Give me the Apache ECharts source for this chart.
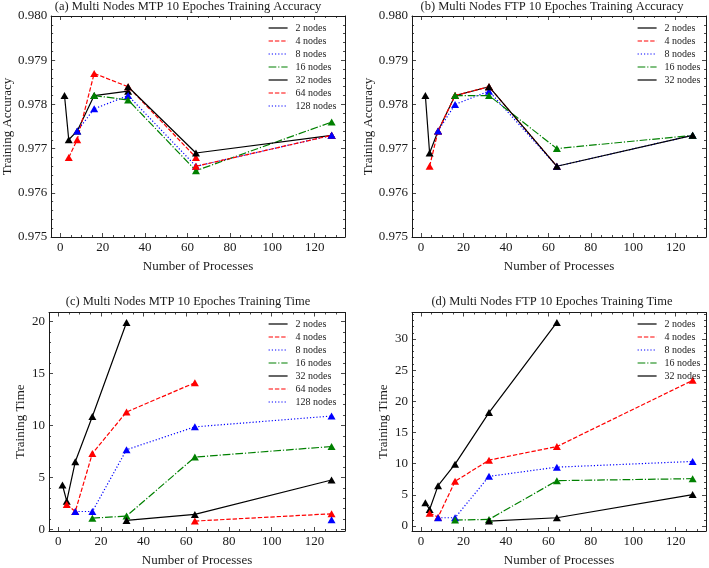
<!DOCTYPE html>
<html>
<head>
<meta charset="utf-8">
<script src="https://cdn.jsdelivr.net/npm/echarts@6/dist/echarts.min.js"></script>
<style>
  html, body { margin: 0; padding: 0; background: #fff; }
  #main { width: 709px; height: 568px; }
</style>
</head>
<body>
<div id="main"></div>
<script>
  // 节点数 -> 进程数
  const nodeNames = ['2 nodes', '4 nodes', '8 nodes', '16 nodes', '32 nodes', '64 nodes', '128 nodes'];
  const procs2 = [2, 4, 8, 16, 32];
  const procs2Ftp = [2, 4, 8, 16, 32, 64];
  const procs4 = [4, 8, 16, 32, 64];
  const procs4Ftp = [4, 8, 16, 32, 64, 128];
  const procs8 = [8, 16, 32, 64, 128];
  const procs16 = [16, 32, 64, 128];
  const procs32 = [32, 64, 128];
  const procs64 = [64, 128];
  const procs128 = [128];

  // (a) MTP 训练精度
  const mtpAcc2 = [0.9782, 0.9772, 0.9774, 0.9782, 0.9783];
  const mtpAcc4 = [0.9768, 0.9772, 0.9787, 0.9784, 0.9768];
  const mtpAcc8 = [0.9774, 0.9779, 0.9782, 0.9766, 0.9773];
  const mtpAcc16 = [0.9782, 0.9781, 0.9765, 0.9776];
  const mtpAcc32 = [0.9784, 0.9769, 0.9773];
  const mtpAcc64 = [0.9766, 0.9773];
  const mtpAcc128 = [0.9773];

  // (b) FTP 训练精度
  const ftpAcc2 = [0.9782, 0.9769, 0.9774, 0.9782, 0.9784];
  const ftpAcc4 = [0.9766, 0.9774, 0.9782, 0.9784, 0.9766];
  const ftpAcc8 = [0.9774, 0.9780, 0.9783, 0.9766, 0.9773];
  const ftpAcc16 = [0.9782, 0.9782, 0.9770, 0.9773];
  const ftpAcc32 = [0.9784, 0.9766, 0.9773];

  // (c) MTP 训练时间
  const mtpTime2 = [4.27, 2.71, 6.5, 10.85, 19.9];
  const mtpTime4 = [2.39, 1.72, 7.3, 11.29, 14.1];
  const mtpTime8 = [1.72, 1.72, 7.66, 9.86, 10.9];
  const mtpTime16 = [1.08, 1.28, 6.95, 7.97];
  const mtpTime32 = [0.86, 1.44, 4.75];
  const mtpTime64 = [0.8, 1.5];
  const mtpTime128 = [0.93];

  // (d) FTP 训练时间
  const ftpTime2 = [3.72, 2.66, 6.48, 9.93, 18.2, 32.66];
  const ftpTime4 = [2.07, 1.43, 7.17, 10.57, 12.75, 23.37];
  const ftpTime8 = [1.33, 1.33, 7.97, 9.45, 10.36];
  const ftpTime16 = [0.96, 1.06, 7.28, 7.6];
  const ftpTime32 = [0.8, 1.33, 5.05];

  const titles = [
    '(a) Multi Nodes MTP 10 Epoches Training Accuracy',
    '(b) Multi Nodes FTP 10 Epoches Training Accuracy',
    '(c) Multi Nodes MTP 10 Epoches Training Time',
    '(d) Multi Nodes FTP 10 Epoches Training Time'
  ];

  const FONT = 'Liberation Serif';
  const INK = '#1a1a1a';

  // 每个节点数的线型
  const styleOf = {
    '2 nodes':   { color: '#000000', dash: 'solid' },
    '4 nodes':   { color: '#ff0000', dash: [4.4, 1.9] },
    '8 nodes':   { color: '#0000ff', dash: [1.2, 2] },
    '16 nodes':  { color: '#008000', dash: [7.7, 1.9, 1.2, 1.9] },
    '32 nodes':  { color: '#000000', dash: 'solid' },
    '64 nodes':  { color: '#ff0000', dash: [4.4, 1.9] },
    '128 nodes': { color: '#0000ff', dash: [1.2, 2] }
  };

  // matplotlib 默认 5% 边距
  function padExtent(values) {
    let lo = Math.min.apply(null, values), hi = Math.max.apply(null, values);
    let m = (hi - lo) * 0.05;
    return [lo - m, hi + m];
  }

  const xExt = padExtent([2, 128]);
  const yExtC = padExtent([].concat(mtpTime2, mtpTime4, mtpTime8, mtpTime16, mtpTime32, mtpTime64, mtpTime128));
  const yExtD = padExtent([].concat(ftpTime2, ftpTime4, ftpTime8, ftpTime16, ftpTime32));

  const grids = [
    { left: 49, top: 16, width: 296, height: 221 },
    { left: 412, top: 16, width: 296, height: 221 },
    { left: 49, top: 312.5, width: 296, height: 220 },
    { left: 412, top: 312.5, width: 296, height: 220 }
  ];

  function onStep(step, fmt) {
    return function (v) {
      let k = v / step;
      return Math.abs(k - Math.round(k)) < 1e-6 ? fmt(v) : '';
    };
  }

  function baseAxis(i, pos, showLabel) {
    return {
      type: 'value',
      gridIndex: i,
      position: pos,
      axisLine: { show: true, onZero: false, lineStyle: { color: INK, width: 1 } },
      axisTick: { show: true, inside: true, length: 4, lineStyle: { color: INK, width: 0.8 } },
      minorTick: { show: true, length: 2, lineStyle: { color: INK, width: 0.8 } },
      splitLine: { show: false },
      minorSplitLine: { show: false },
      axisLabel: { show: showLabel, color: INK, fontFamily: FONT, fontSize: 13, margin: 4 }
    };
  }

  function xAxisFor(i, pos) {
    let ax = baseAxis(i, pos, pos === 'bottom');
    ax.min = xExt[0];
    ax.max = xExt[1];
    ax.minInterval = 20;
    ax.maxInterval = 20;
    ax.minorTick.splitNumber = 4;
    ax.axisLabel.formatter = onStep(20, v => String(Math.round(v)));
    if (pos === 'bottom') {
      ax.name = 'Number of Processes';
      ax.nameLocation = 'middle';
      ax.nameGap = 23;
      ax.nameTextStyle = { color: INK, fontFamily: FONT, fontSize: 13 };
    }
    return ax;
  }

  function yAxisFor(i, pos) {
    let ax = baseAxis(i, pos, pos === 'left');
    ax.minorTick.splitNumber = 5;
    if (i < 2) {
      ax.min = 0.975;
      ax.max = 0.980;
      ax.interval = 0.001;
      ax.axisLabel.formatter = v => v.toFixed(3);
    } else {
      let ext = i === 2 ? yExtC : yExtD;
      ax.min = ext[0];
      ax.max = ext[1];
      ax.minInterval = 5;
      ax.maxInterval = 5;
      ax.axisLabel.formatter = onStep(5, v => String(Math.round(v)));
    }
    if (pos === 'left') {
      ax.name = i < 2 ? 'Training Accuracy' : 'Training Time';
      ax.nameLocation = 'middle';
      ax.nameGap = i < 2 ? 37 : 22;
      ax.nameTextStyle = { color: INK, fontFamily: FONT, fontSize: 13 };
    }
    return ax;
  }

  function makeSeries(name, procs, values, gi) {
    const st = styleOf[name];
    return {
      name: name,
      type: 'line',
      xAxisIndex: gi,
      yAxisIndex: gi,
      data: procs.map((p, k) => [p, values[k]]),
      symbol: 'triangle',
      symbolSize: [8, 7],
      showSymbol: true,
      lineStyle: { color: st.color, width: 1.2, type: st.dash },
      itemStyle: { color: st.color },
      emphasis: { disabled: true },
      animation: false
    };
  }

  const series = [
    makeSeries('2 nodes', procs2, mtpAcc2, 0),
    makeSeries('4 nodes', procs4, mtpAcc4, 0),
    makeSeries('8 nodes', procs8, mtpAcc8, 0),
    makeSeries('16 nodes', procs16, mtpAcc16, 0),
    makeSeries('32 nodes', procs32, mtpAcc32, 0),
    makeSeries('64 nodes', procs64, mtpAcc64, 0),
    makeSeries('128 nodes', procs128, mtpAcc128, 0),

    makeSeries('2 nodes', procs2, ftpAcc2, 1),
    makeSeries('4 nodes', procs4, ftpAcc4, 1),
    makeSeries('8 nodes', procs8, ftpAcc8, 1),
    makeSeries('16 nodes', procs16, ftpAcc16, 1),
    makeSeries('32 nodes', procs32, ftpAcc32, 1),

    makeSeries('2 nodes', procs2, mtpTime2, 2),
    makeSeries('4 nodes', procs4, mtpTime4, 2),
    makeSeries('8 nodes', procs8, mtpTime8, 2),
    makeSeries('16 nodes', procs16, mtpTime16, 2),
    makeSeries('32 nodes', procs32, mtpTime32, 2),
    makeSeries('64 nodes', procs64, mtpTime64, 2),
    makeSeries('128 nodes', procs128, mtpTime128, 2),

    makeSeries('2 nodes', procs2Ftp, ftpTime2, 3),
    makeSeries('4 nodes', procs4Ftp, ftpTime4, 3),
    makeSeries('8 nodes', procs8, ftpTime8, 3),
    makeSeries('16 nodes', procs16, ftpTime16, 3),
    makeSeries('32 nodes', procs32, ftpTime32, 3)
  ];

  function legendAt(left, top, names) {
    return {
      orient: 'vertical',
      left: left,
      top: top,
      padding: 0,
      itemWidth: 19,
      itemHeight: 10,
      itemGap: 3,
      selectedMode: false,
      data: names,
      itemStyle: { opacity: 0 },
      lineStyle: { width: 1.2 },
      textStyle: { color: INK, fontFamily: FONT, fontSize: 10, lineHeight: 10, padding: [0, 0, 0, 3] }
    };
  }

  const titlePos = [[188, 0], [552, 0], [188, 295], [552, 295]];

  const option = {
    backgroundColor: '#ffffff',
    animation: false,
    title: titles.map((t, i) => ({
      text: t,
      left: titlePos[i][0],
      top: titlePos[i][1],
      textAlign: 'center',
      padding: 0,
      textStyle: { color: INK, fontFamily: FONT, fontSize: 12.5, fontWeight: 'normal' }
    })),
    legend: [
      legendAt(268, 23, nodeNames),
      legendAt(637, 23, nodeNames.slice(0, 5)),
      legendAt(268, 319, nodeNames),
      legendAt(637, 319, nodeNames.slice(0, 5))
    ],
    grid: grids,
    xAxis: [0, 1, 2, 3].map(i => xAxisFor(i, 'bottom')).concat([0, 1, 2, 3].map(i => xAxisFor(i, 'top'))),
    yAxis: [0, 1, 2, 3].map(i => yAxisFor(i, 'left')).concat([0, 1, 2, 3].map(i => yAxisFor(i, 'right'))),
    series: series
  };

  const chart = echarts.init(document.getElementById('main'), null, { renderer: 'canvas' });
  chart.setOption(option);
</script>
</body>
</html>
